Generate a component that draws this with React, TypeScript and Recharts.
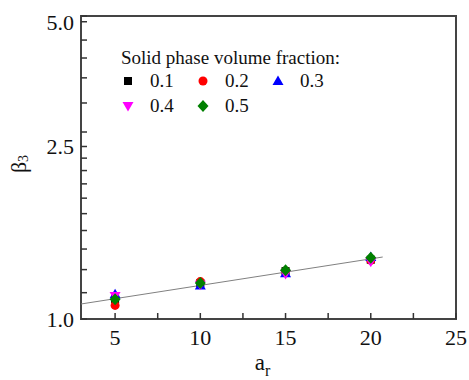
import { ScatterChart, Scatter, XAxis, YAxis, Legend, Label, ReferenceArea } from 'recharts';

const xTicksMajor = [5, 10, 15, 20, 25];
const xTicksMinor = [7.5, 12.5, 17.5, 22.5];
const yTicksMajor = [1, 2.5, 5];
const yTicksMinor = [1.15, 1.3, 1.45, 1.6, 1.75, 1.9, 2.05, 2.2, 2.35, 2.7, 3.15, 3.6, 4.0, 4.4, 4.85];

const aspectRatios = [5, 10, 15, 20];
const beta01 = [1.11, 1.21, 1.29, 1.37];
const beta02 = [1.075, 1.22, 1.29, 1.365];
const beta03 = [1.14, 1.195, 1.275, 1.39];
const beta04 = [1.13, 1.2, 1.27, 1.355];
const beta05 = [1.11, 1.21, 1.295, 1.385];

const fitX = [3, 20.7];
const fitBeta = [1.083, 1.39];

const serif = '"Liberation Serif", "Times New Roman", serif';
const axisColor = '#444';
const tickLen = 6;

type Kind = 'square' | 'circle' | 'up' | 'down' | 'diamond';

const series: { name: string; values: number[]; color: string; kind: Kind }[] = [
  { name: '0.1', values: beta01, color: '#000000', kind: 'square' },
  { name: '0.2', values: beta02, color: '#ff0000', kind: 'circle' },
  { name: '0.3', values: beta03, color: '#0000ff', kind: 'up' },
  { name: '0.4', values: beta04, color: '#ff00ff', kind: 'down' },
  { name: '0.5', values: beta05, color: '#008000', kind: 'diamond' },
];

function Marker({ kind, cx, cy, color }: { kind: Kind; cx: number; cy: number; color: string }) {
  switch (kind) {
    case 'square':
      return <rect x={cx - 4} y={cy - 4} width={8} height={8} fill={color} />;
    case 'circle':
      return <circle cx={cx} cy={cy} r={4.5} fill={color} />;
    case 'up':
      return <polygon points={`${cx},${cy - 5.5} ${cx + 5.5},${cy + 4} ${cx - 5.5},${cy + 4}`} fill={color} />;
    case 'down':
      return <polygon points={`${cx},${cy + 5.5} ${cx + 5.5},${cy - 4} ${cx - 5.5},${cy - 4}`} fill={color} />;
    default:
      return <polygon points={`${cx},${cy - 6} ${cx + 5.5},${cy} ${cx},${cy + 6} ${cx - 5.5},${cy}`} fill={color} />;
  }
}

// tick lines point inward (negative tickSize); labels only on the major ticks
const XTick = (props: any) => {
  const { x, y, payload } = props;
  if (!xTicksMajor.includes(payload.value)) return <g />;
  return (
    <text x={x} y={y + tickLen + 26} textAnchor="middle" fontSize={22} fontFamily={serif} fill="#111">
      {payload.value}
    </text>
  );
};

const YTick = (props: any) => {
  const { x, y, payload } = props;
  const v = payload.value;
  if (!yTicksMajor.includes(v)) return <g />;
  return (
    <text
      x={x - tickLen - 7}
      y={y + (v === 5 ? 6 : 0)}
      textAnchor="end"
      dominantBaseline="central"
      fontSize={22}
      fontFamily={serif}
      fill="#111"
    >
      {v.toFixed(1)}
    </text>
  );
};

const renderLegend = () => (
  <div style={{ fontFamily: serif, fontSize: 19, color: '#111' }}>
    <div style={{ lineHeight: '20px', whiteSpace: 'nowrap' }}>Solid phase volume fraction:</div>
    {[series.slice(0, 3), series.slice(3)].map((row, i) => (
      <div key={i} style={{ display: 'flex', height: 25, alignItems: 'center' }}>
        {row.map((s) => (
          <div key={s.name} style={{ display: 'flex', alignItems: 'center', width: 75 }}>
            <svg width={14} height={14} style={{ marginRight: 15 }}>
              <Marker kind={s.kind} cx={7} cy={7} color={s.color} />
            </svg>
            <span>{s.name}</span>
          </div>
        ))}
      </div>
    ))}
  </div>
);

export default function App() {
  const fitData = fitX.map((x, i) => ({ x, y: fitBeta[i] }));
  return (
    <div style={{ position: 'absolute', left: 0, top: 0, fontFamily: serif }}>
      <ScatterChart width={469} height={380} margin={{ top: 16, right: 13, left: 21, bottom: 21 }}>
        <XAxis
          dataKey="x"
          type="number"
          domain={[3, 25]}
          allowDataOverflow
          ticks={[...xTicksMajor, ...xTicksMinor].sort((a, b) => a - b)}
          interval={0}
          tickSize={-tickLen}
          tickMargin={0}
          tickLine={{ stroke: '#333', strokeWidth: 1.5 }}
          tick={(p: any) => <XTick {...p} />}
          axisLine={{ stroke: axisColor, strokeWidth: 2 }}
          height={40}
        >
          <Label
            content={(p: any) => {
              const vb = p.viewBox;
              const cx = vb.x + vb.width / 2 - 6;
              return (
                <text x={cx} y={370} textAnchor="middle" fontFamily={serif} fontSize={23} fill="#111">
                  a<tspan dy={6} fontSize={16}>r</tspan>
                </text>
              );
            }}
          />
        </XAxis>
        <YAxis
          dataKey="y"
          type="number"
          scale="log"
          domain={[1, 5]}
          allowDataOverflow
          ticks={[...yTicksMajor, ...yTicksMinor].sort((a, b) => a - b)}
          interval={0}
          tickSize={-tickLen}
          tickMargin={0}
          tickLine={{ stroke: '#333', strokeWidth: 1.5 }}
          tick={(p: any) => <YTick {...p} />}
          axisLine={{ stroke: axisColor, strokeWidth: 2 }}
          width={60}
        >
          <Label
            content={() => {
              const cx = 18;
              const cy = 164;
              return (
                <text
                  x={cx}
                  y={cy}
                  transform={`rotate(-90 ${cx} ${cy})`}
                  textAnchor="middle"
                  dominantBaseline="central"
                  fontFamily={serif}
                  fontSize={22}
                  fill="#111"
                >
                  β<tspan dy={5} fontSize={14}>3</tspan>
                </text>
              );
            }}
          />
        </YAxis>
        <ReferenceArea
          x1={3}
          x2={25}
          y1={1}
          y2={5}
          fill="none"
          stroke={axisColor}
          strokeWidth={2}
          ifOverflow="visible"
        />
        <Legend
          content={renderLegend}
          layout="horizontal"
          verticalAlign="middle"
          align="center"
          wrapperStyle={{ top: 48, left: 121, width: 'auto', height: 'auto' }}
        />
        <Scatter
          name="fit"
          data={fitData}
          line={{ stroke: '#808080', strokeWidth: 1 }}
          shape={() => <g />}
          isAnimationActive={false}
          legendType="none"
        />
        {series.map((s) => (
          <Scatter
            key={s.name}
            name={s.name}
            data={aspectRatios.map((x, i) => ({ x, y: s.values[i] }))}
            isAnimationActive={false}
            shape={(p: any) => <Marker kind={s.kind} cx={p.cx} cy={p.cy} color={s.color} />}
          />
        ))}
      </ScatterChart>
    </div>
  );
}
